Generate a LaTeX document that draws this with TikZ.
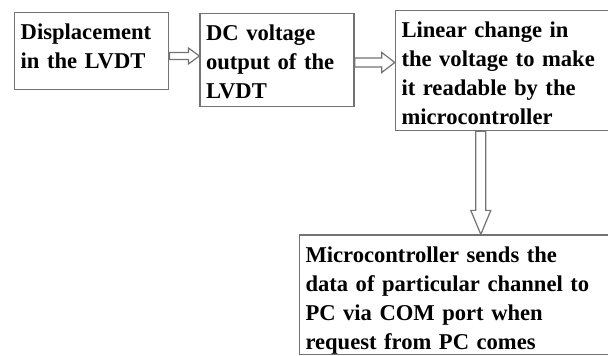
\documentclass[tikz,border=0pt]{standalone}
\usepackage{fontspec}
\setmainfont{Liberation Serif}
\usepackage{tikz}
\usetikzlibrary{positioning}
\usetikzlibrary{calc}

% hollow block arrow: start, end, shaft half width, head half width, head length
\newcommand{\blockarrow}[5]{%
  \coordinate (ba-k) at ($(#2)!#5!(#1)$);
  \draw[hollowarrow] ($(#1)!#3!90:(#2)$) -- ($(ba-k)!#3!90:(#2)$)
    -- ($(ba-k)!#4!90:(#2)$) -- (#2) -- ($(ba-k)!#4!-90:(#2)$)
    -- ($(ba-k)!#3!-90:(#2)$) -- ($(#1)!#3!-90:(#2)$) -- cycle;
}

\begin{document}
\begin{tikzpicture}[
stagebox/.style={draw=black!55, line width=0.7pt, align=left, inner xsep=3pt, inner ysep=0pt,
  text height=13.5pt, font=\fontsize{11.3}{14.5}\selectfont\bfseries, text=black},
hollowarrow/.style={draw=black!55, line width=0.6pt, fill=white},
]
\useasboundingbox (0,0) rectangle (304pt,-178pt);

%Boxes
\node[stagebox, anchor=north west, text width=71pt, text depth=25pt] (b1) at (7pt,-6pt)
  {Displacement\\in the LVDT};
\node[stagebox, text width=71pt, text depth=33pt] (b2) [right=15pt of b1.north east, anchor=north west, yshift=-0.5pt]
  {DC voltage\\output of the\\LVDT};
\node[stagebox, text width=101pt, text depth=46.5pt] (b3) [right=20pt of b2.north east, anchor=north west, yshift=1.5pt]
  {Linear change in\\the voltage to make\\it readable by the\\microcontroller};
\node[stagebox, text width=149pt, text depth=46.3pt] (b4) [below=51.5pt of b3.south east, anchor=north east]
  {Microcontroller sends the\\data of particular channel to\\PC via COM port when\\request from PC comes};

%Arrows
\coordinate (a1s) at ([yshift=-22pt]b1.north east);
\coordinate (a1e) at (b2.west |- a1s);
\coordinate (a2s) at ([yshift=-24.75pt]b2.north east);
\coordinate (a2e) at (b3.west |- a2s);
\coordinate (a3s) at ([xshift=43pt]b3.south west);
\coordinate (a3e) at (a3s |- b4.north);
\blockarrow{a1s}{a1e}{1.75pt}{4pt}{5.5pt}
\blockarrow{a2s}{a2e}{2.25pt}{5pt}{6.5pt}
\blockarrow{a3s}{a3e}{2.5pt}{5pt}{12pt}
\end{tikzpicture}
\end{document}
